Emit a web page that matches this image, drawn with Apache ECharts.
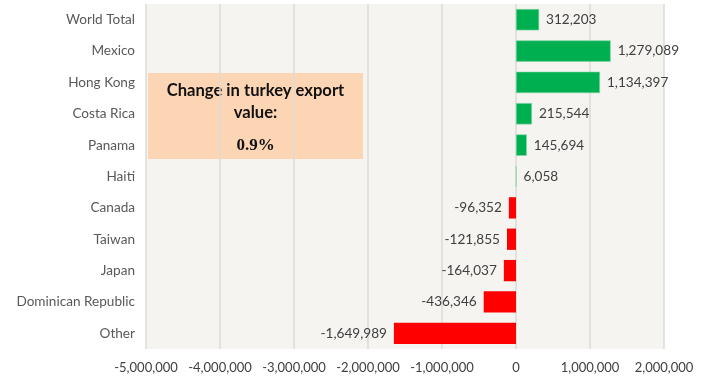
<!DOCTYPE html>
<html>
<head>
<meta charset="utf-8">
<script src="https://cdn.jsdelivr.net/npm/echarts@6/dist/echarts.min.js"></script>
<style>
  html, body { margin: 0; padding: 0; background: #ffffff; }
  #chart { width: 710px; height: 377px; }
</style>
</head>
<body>
<div id="chart"></div>
<script>
// Change in turkey export value by market
const categories = ['World Total', 'Mexico', 'Hong Kong', 'Costa Rica', 'Panama', 'Haiti',
  'Canada', 'Taiwan', 'Japan', 'Dominican Republic', 'Other'];
const changeValues = [312203, 1279089, 1134397, 215544, 145694, 6058,
  -96352, -121855, -164037, -436346, -1649989];
const axisMin = -5000000;
const axisMax = 2000000;
const axisStep = 1000000;
const boxTitle = 'Change in turkey export\nvalue:';
const boxValue = '0.9%';

const fontFamily = 'Lato, "Open Sans", sans-serif';
const fmt = v => v.toLocaleString('en-US');

const chart = echarts.init(document.getElementById('chart'), null, { renderer: 'canvas' });

chart.setOption({
  animation: false,
  backgroundColor: '#ffffff',
  grid: { left: 146, right: 46, top: 4, bottom: 28, containLabel: false,
          show: true, backgroundColor: '#f5f4f0', borderWidth: 0 },
  xAxis: {
    type: 'value', min: axisMin, max: axisMax, interval: axisStep,
    axisLine: { show: false }, axisTick: { show: false },
    splitLine: { show: true, lineStyle: { color: '#dcdbd6', width: 1.5 } },
    axisLabel: { color: '#404040', fontSize: 13, fontFamily, margin: 12,
                 formatter: v => fmt(v) }
  },
  yAxis: {
    type: 'category', data: categories, inverse: true,
    axisLine: { show: false }, axisTick: { show: false },
    axisLabel: { color: '#595959', fontSize: 13.6, fontFamily, margin: 11 }
  },
  series: [{
    type: 'bar',
    barCategoryGap: '32%',
    data: changeValues.map(v => ({
      value: v,
      itemStyle: { color: v >= 0 ? '#00b050' : '#ff0000',
                   borderColor: v >= 0 ? '#7fd4a3' : '#ff0000', borderWidth: v >= 0 ? 0.6 : 0 },
      label: { position: v >= 0 ? 'right' : 'left' }
    })),
    label: { show: true, color: '#404040', fontSize: 13.6, fontFamily, distance: 7,
             formatter: p => fmt(p.value) }
  }],
  graphic: [{
    type: 'group', left: 148, top: 73,
    children: [
      { type: 'rect', shape: { x: 0, y: 0, width: 215, height: 86 },
        style: { fill: '#fcd5b4' } },
      { type: 'text', x: 107.5, y: 7,
        style: { text: boxTitle, fill: '#111111', fontSize: 16.6, fontWeight: 'bold',
                 fontFamily, align: 'center', verticalAlign: 'top', lineHeight: 22 } },
      { type: 'text', x: 107.5, y: 64,
        style: { text: boxValue, fill: '#111111', fontSize: 17, fontWeight: 'bold',
                 fontFamily: '"Liberation Serif", "DejaVu Serif", serif',
                 align: 'center', verticalAlign: 'top' } }
    ]
  }]
});
</script>
</body>
</html>
